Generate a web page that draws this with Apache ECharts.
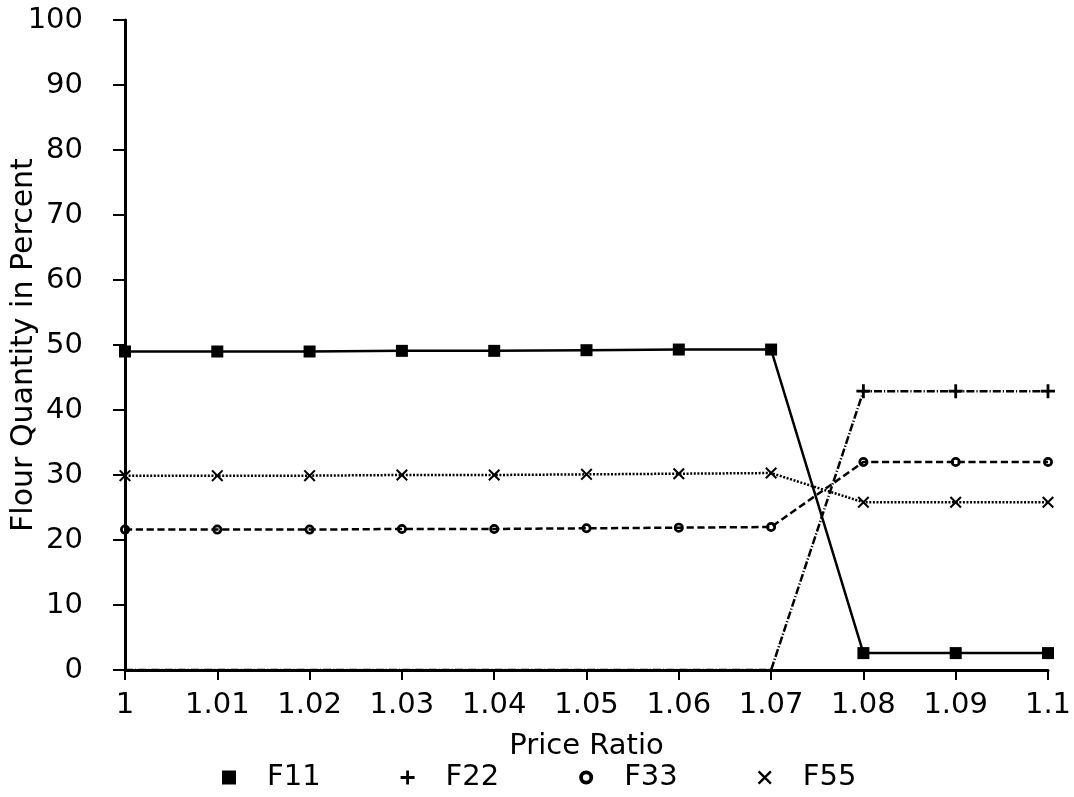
<!DOCTYPE html>
<html>
<head>
<meta charset="utf-8">
<script src="https://cdn.jsdelivr.net/npm/echarts@6/dist/echarts.min.js"></script>
<style>html,body{margin:0;padding:0;background:#fff;}#c{width:1074px;height:797px;}</style>
</head>
<body>
<div id="c"></div>
<script>
const categories = ['1','1.01','1.02','1.03','1.04','1.05','1.06','1.07','1.08','1.09','1.1'];
const F11 = [49.0, 49.0, 49.0, 49.1, 49.1, 49.2, 49.3, 49.3, 2.6, 2.6, 2.6];
const F22 = [0, 0, 0, 0, 0, 0, 0, 0, 42.9, 42.9, 42.9];
const F33 = [21.6, 21.6, 21.6, 21.7, 21.7, 21.8, 21.9, 22.0, 32.0, 32.0, 32.0];
const F55 = [29.9, 29.9, 29.9, 30.0, 30.0, 30.1, 30.2, 30.3, 25.8, 25.8, 25.8];
const yTicks = [0,10,20,30,40,50,60,70,80,90,100];

const FONT = '"DejaVu Sans", Verdana, sans-serif';
const PLUS = 'path://M4,0H6V4H10V6H6V10H4V6H0V4H4Z';
const CROSS = 'path://M1.2,0L5,3.8L8.8,0L10,1.2L6.2,5L10,8.8L8.8,10L5,6.2L1.2,10L0,8.8L3.8,5L0,1.2Z';
const RING = 'path://M5,0A5,5,0,1,1,5,10A5,5,0,1,1,5,0ZM5,2.7A2.3,2.3,0,1,0,5,7.3A2.3,2.3,0,1,0,5,2.7Z';

function mk(name, data, symbol, size, dash, hideZero) {
  return {
    name: name, type: 'line', data: data,
    symbol: symbol,
    symbolSize: hideZero ? function (v) { return v === 0 ? 0 : size; } : size,
    showAllSymbol: true,
    lineStyle: { color: '#000', width: 2.5, type: dash },
    itemStyle: { color: '#000' },
    emphasis: { disabled: true },
    animation: false,
    z: 3
  };
}

const chart = echarts.init(document.getElementById('c'), null, { renderer: 'canvas' });
chart.setOption({
  backgroundColor: '#fff',
  animation: false,
  grid: { left: 125, right: 26, top: 20, bottom: 127, containLabel: false, outerBoundsMode: 'none' },
  xAxis: {
    type: 'category', data: categories, boundaryGap: false,
    name: 'Price Ratio', nameLocation: 'middle', nameGap: 62,
    nameMoveOverlap: false,
    nameTextStyle: { fontFamily: FONT, fontSize: 29, color: '#000' },
    axisLine: { lineStyle: { color: '#000', width: 3 } },
    axisTick: { show: true, length: 10, lineStyle: { color: '#000', width: 2 } },
    axisLabel: { fontFamily: FONT, fontSize: 29, color: '#000', margin: 21 },
    splitLine: { show: false }
  },
  yAxis: {
    type: 'value', min: yTicks[0], max: yTicks[yTicks.length - 1], interval: 10,
    name: 'Flour Quantity in Percent', nameLocation: 'middle', nameGap: 86,
    nameMoveOverlap: false,
    nameTextStyle: { fontFamily: FONT, fontSize: 30, color: '#000' },
    axisLine: { show: true, lineStyle: { color: '#000', width: 3 } },
    axisTick: { show: true, length: 12, lineStyle: { color: '#000', width: 2 } },
    axisLabel: { fontFamily: FONT, fontSize: 29, color: '#000', margin: 42 },
    splitLine: { show: false }
  },
  legend: {
    left: 217, top: 758, itemGap: 80, itemWidth: 14, itemHeight: 14,
    textStyle: { fontFamily: FONT, fontSize: 29, color: '#000', padding: [0, 0, 0, 26] },
    data: [
      { name: 'F11', icon: 'rect', itemStyle: { color: '#000' } },
      { name: 'F22', icon: PLUS, itemStyle: { color: '#000' } },
      { name: 'F33', icon: RING, itemStyle: { color: '#000' } },
      { name: 'F55', icon: CROSS, itemStyle: { color: '#000' } }
    ]
  },
  series: [
    mk('F11', F11, 'rect', 12, 'solid', false),
    mk('F22', F22, PLUS, 14, [8, 2, 1.2, 2], true),
    mk('F33', F33, RING, 10, [7.2, 3.6], false),
    mk('F55', F55, CROSS, 12, [2, 1.6], false)
  ]
});
</script>
</body>
</html>
